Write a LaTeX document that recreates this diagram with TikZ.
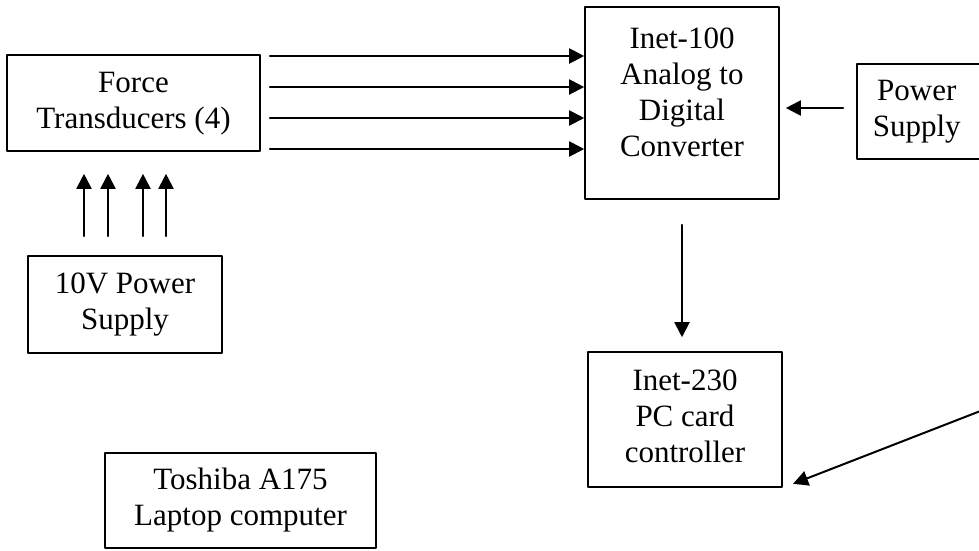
\documentclass[tikz,border=0pt]{standalone}
\usepackage{fontspec}
\setmainfont{Liberation Serif}
\usepackage{tikz}
\usetikzlibrary{arrows.meta}
\usetikzlibrary{calc}
\newcommand{\boxlines}[1]{\begin{tabular}{@{}c@{}}#1\end{tabular}}
\tikzset{
	box/.style={draw, line width=1.6pt, inner sep=0pt, font=\fontsize{31}{36}\selectfont},
	arr/.style={-{Triangle[length=15pt, width=15pt]}, line width=2pt}
}

\begin{document}
\begin{tikzpicture}[line cap=round,line join=round, x=1pt,y=-1pt]
	\useasboundingbox (0,0) rectangle (979,550);
	\clip (0,0) rectangle (979,550);
	\node[box, minimum width=253pt, minimum height=96pt] (force) at (133.5,103) {\boxlines{Force\\Transducers (4)}};
	\node[box, minimum width=194pt, minimum height=97pt] (ps10) at (125,304.5) {\boxlines{10V Power\\Supply}};
	\node[box, minimum width=271pt, minimum height=95pt] (laptop) at (240.5,500.5) {\boxlines{Toshiba A175\\Laptop computer}};
	\node[box, minimum width=194pt, minimum height=192pt] (adc) at (682,103) {\raisebox{8pt}[\height][\depth]{\boxlines{Inet-100\\Analog to\\Digital\\Converter}}};
	\node[box, minimum width=194pt, minimum height=135pt] (pc) at (685,419.5) {\boxlines{Inet-230\\PC card\\controller}};
	\node[box, anchor=west, minimum height=95pt] (pwr) at (856,111.5) {\hspace*{16pt}\boxlines{Power\\Supply}\hspace*{60pt}};
	\coordinate (lapin) at (1100,364.5);
	\foreach \dy in {-47,-16,15,46}
	\draw[arr, shorten <=9pt] ($(force.east)+(0,\dy)$) -- ($(force.east -| adc.west)+(0,\dy)$);
	\foreach \dx in {-41,-17,18,41}
	\draw[arr, shorten <=19pt, shorten >=22pt] ($(ps10.north)+(\dx,0)$) -- ($(ps10.north |- force.south)+(\dx,0)$);
	\draw[arr, shorten <=13pt, shorten >=6pt] ($(pwr.west)+(0,-3.5)$) -- ($(pwr.west -| adc.east)+(0,-3.5)$);
	\draw[arr, shorten <=25pt, shorten >=14pt] (adc.south) -- (adc.south |- pc.north);
	\draw[arr, shorten >=11pt] (lapin) -- (pc.south east);
\end{tikzpicture}
\end{document}
